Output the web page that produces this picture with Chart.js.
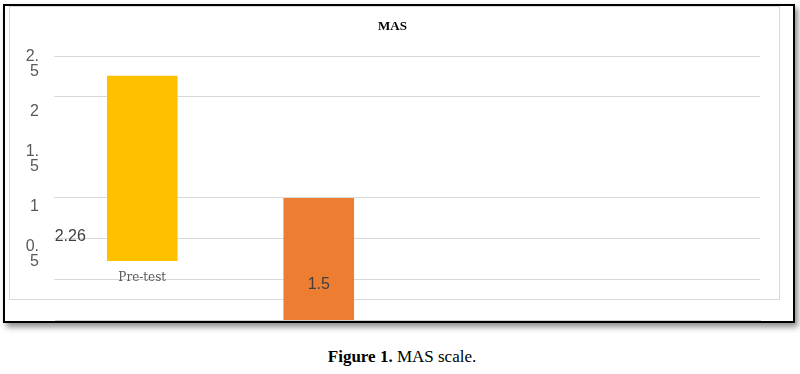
<!DOCTYPE html>
<html>
<head>
<meta charset="UTF-8" />
<script src="https://cdn.jsdelivr.net/npm/chart.js"></script>
<style>
  body { margin: 0; background: #fff; width: 800px; height: 374px; position: relative; overflow: hidden; }
  .frame { position: absolute; left: 3px; top: 4px; width: 792px; height: 319px; box-sizing: border-box;
           border: 2px solid #000; box-shadow: 3px 4px 6px rgba(0,0,0,0.45); background: #fff; }
  .inner { position: absolute; left: 9px; top: 6px; width: 771px; height: 294px; box-sizing: border-box; border: 1px solid #d9d9d9; }
  .base-line { position: absolute; left: 55px; top: 320px; width: 706px; height: 1px; background: #d0d0d0; }
  #chart { position: absolute; left: 10px; top: 7px; }
  .caption { position: absolute; left: 4px; right: 0; top: 347px; text-align: center;
             font-family: "Liberation Serif", "Times New Roman", serif; font-size: 17px; color: #000; }
</style>
</head>
<body>
  <div class="frame"></div>
  <div class="inner"></div>
  <canvas id="chart" width="770" height="314"></canvas>
  <div class="base-line"></div>
  <div class="caption"><b>Figure 1.</b> MAS scale.</div>

<script>
  // valores
  const categories = ["Pre-test", "Post-test", "", ""];
  const preTest = [2.26, null, null, null];
  const postTest = [null, 1.5, null, null];
  const yTickValues = [0.5, 1, 1.5, 2, 2.5];
  const yGridValues = [2, 2.5];
  const y2GridValues = [0.5, 1, 1.5];

  const useTicks = (list) => (scale) => { scale.ticks = list.map((v) => ({ value: v })); };
  const noPadding = (s) => { s.paddingTop = 0; s.paddingBottom = 0; s.paddingLeft = 0; s.paddingRight = 0; };

  // rótulos de valor desenhados perto de cada barra
  const valueLabels = {
    id: "valueLabels",
    afterDatasetsDraw(chart, args, opts) {
      const ctx = chart.ctx;
      ctx.save();
      ctx.font = '16px "Liberation Sans", Arial, sans-serif';
      ctx.fillStyle = "#404040";
      ctx.textAlign = "center";
      ctx.textBaseline = "middle";
      chart.data.datasets.forEach((ds, i) => {
        const meta = chart.getDatasetMeta(i);
        const off = opts.offsets[i];
        meta.data.forEach((bar, j) => {
          const v = ds.data[j];
          if (v == null) return;
          ctx.fillText(String(v), bar.x + off.dx, bar.base + off.dy);
        });
      });
      ctx.restore();
    },
  };

  new Chart(document.getElementById("chart"), {
    type: "bar",
    data: {
      labels: categories,
      datasets: [
        { label: "Pre-test", data: preTest, backgroundColor: "#FFC000", yAxisID: "y" },
        { label: "Post-test", data: postTest, backgroundColor: "#ED7D31", yAxisID: "y2", clip: false },
      ],
    },
    options: {
      responsive: false,
      animation: false,
      layout: { padding: { left: 15, right: 20, top: 0, bottom: 0 } },
      datasets: { bar: { grouped: false, barPercentage: 0.4, categoryPercentage: 1 } },
      plugins: {
        legend: { display: false },
        tooltip: { enabled: false },
        title: {
          display: true,
          text: "MAS",
          color: "#000",
          font: { family: '"Liberation Serif", "Times New Roman", serif', size: 13, weight: "bold" },
          padding: { top: 12, bottom: 21.4 },
        },
        valueLabels: { offsets: [{ dx: -72, dy: -24 }, { dx: 0, dy: -36.5 }] },
      },
      scales: {
        x: {
          grid: { display: false, drawTicks: false },
          border: { display: false },
          ticks: {
            mirror: true,
            padding: 15,
            color: "#595959",
            maxRotation: 0,
            autoSkip: false,
            font: { family: '"DejaVu Serif", serif', size: 12 },
          },
          afterFit: (s) => { s.height = 21; noPadding(s); },
        },
        yLabels: {
          position: "left",
          min: 0.022,
          max: 2.584,
          grid: { display: false, drawTicks: false },
          border: { display: false },
          afterBuildTicks: useTicks(yTickValues),
          ticks: {
            padding: 15,
            color: "#595959",
            font: { family: '"Liberation Sans", Arial, sans-serif', size: 16, lineHeight: 0.94 },
            callback: (v) => {
              const s = String(v);
              const i = s.indexOf(".");
              return i < 0 ? s : [s.slice(0, i + 1), s.slice(i + 1)];
            },
          },
          afterFit: (s) => { s.width = 29; noPadding(s); },
        },
        y: {
          position: "left",
          min: -0.476,
          max: 2.5,
          grid: { color: "#d9d9d9", drawTicks: false },
          border: { display: false },
          ticks: { display: false },
          afterBuildTicks: useTicks(yGridValues),
          afterFit: (s) => { s.width = 0; noPadding(s); },
        },
        y2: {
          position: "left",
          min: 0.256,
          max: 3.2317,
          grid: { color: "#d9d9d9", drawTicks: false },
          border: { display: false },
          ticks: { display: false },
          afterBuildTicks: useTicks(y2GridValues),
          afterFit: (s) => { s.width = 0; noPadding(s); },
        },
      },
    },
    plugins: [valueLabels],
  });
</script>
</body>
</html>
